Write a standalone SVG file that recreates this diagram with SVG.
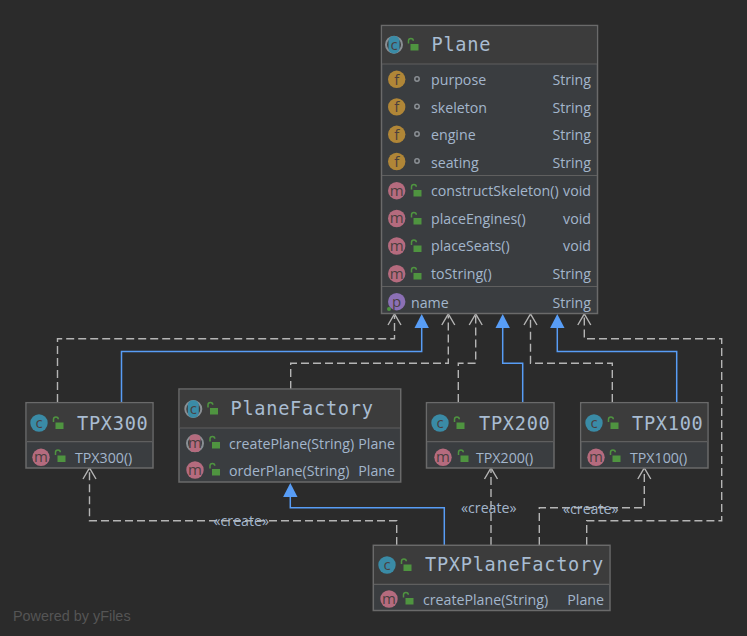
<svg xmlns="http://www.w3.org/2000/svg" xmlns:xlink="http://www.w3.org/1999/xlink" width="747" height="636" viewBox="0 0 747 636">
<style>
.box{fill:#3a3d40;stroke:#6a6a6a;stroke-width:1.5}
.hd{fill:#3c3c3c}
.div{stroke:#5f5f5f;stroke-width:1.2;fill:none}
.t{font-family:"Open Sans","Noto Sans",sans-serif;font-size:14.200px;fill:#a3b6cc}
.r{text-anchor:end}
.title{font-family:"DejaVu Sans Mono",monospace;font-size:18.600px;letter-spacing:0.730px;fill:#a9bcd2}
.ic{font-family:"Open Sans",sans-serif;font-size:15px;text-anchor:middle;fill:#4a3f3f}
.c{fill:#3a8ba6}.f{fill:#b08637}.m{fill:#b56b7e}.p{fill:#8b70b5}
.ring{fill:none;stroke:#8a8f94;stroke-width:2}
.dash{fill:none;stroke:#b5b5b5;stroke-width:1.4;stroke-dasharray:8 4}
.blue{fill:none;stroke:#589df6;stroke-width:1.5}
.open{fill:none;stroke:#b5b5b5;stroke-width:1.4}
.tri{fill:#589df6}
.lbl{font-family:"Open Sans","Noto Sans",sans-serif;font-size:14.200px;fill:#a3b6cc}
</style>
<defs>
<g id="lock"><path d="M-4.500 -1.500V-4.200a2.400 2.400 0 0 1 4.800 0" fill="none" stroke="#4f9440" stroke-width="1.500"/><rect x="-2.500" y="-1" width="8" height="6.500" fill="#4f9440"/></g>
<path id="ah" class="open" d="M-6.500 11L0 0L6.500 11"/>
<path id="tr" class="tri" d="M0 0L7.200 14H-7.200Z"/>
</defs>
<rect width="747" height="636" fill="#2b2b2b"/>

<g id="connectors">
<path class="dash" d="M57.500 402V338.700H394.500V316"/><use xlink:href="#ah" x="394.500" y="314"/>
<path class="blue" d="M121.500 402V351.500H421.700V328"/><use xlink:href="#tr" x="421.700" y="314"/>
<path class="dash" d="M290.700 389V363.300H448.300V316"/><use xlink:href="#ah" x="448.300" y="314"/>
<path class="dash" d="M458.300 402V363.300H475.700V316"/><use xlink:href="#ah" x="475.700" y="314"/>
<path class="blue" d="M522.700 402V363.300H502.700V328"/><use xlink:href="#tr" x="502.700" y="314"/>
<path class="dash" d="M612.300 402V363.300H530.500V316"/><use xlink:href="#ah" x="530.500" y="314"/>
<path class="blue" d="M676.700 402V351.500H557.300V328"/><use xlink:href="#tr" x="557.300" y="314"/>
<path class="dash" d="M586.700 545V520.700H721.700V338.700H584.300V316"/><use xlink:href="#ah" x="584.300" y="314"/>
<path class="dash" d="M396.700 545V520.700H89.500V470"/><use xlink:href="#ah" x="89.500" y="468"/>
<path class="blue" d="M444.300 545V507.700H290.300V497"/><use xlink:href="#tr" x="290.300" y="483"/>
<path class="dash" d="M491 545V470"/><use xlink:href="#ah" x="491" y="468"/>
<path class="dash" d="M539.300 545V507.700H644.300V470"/><use xlink:href="#ah" x="644.300" y="468"/>
<text class="lbl" x="213.500" y="526">«create»</text>
<text class="lbl" x="461" y="513">«create»</text>
<text class="lbl" x="563" y="514">«create»</text>
</g>

<g id="node-plane">
<rect class="box" x="381.500" y="25.500" width="216" height="288"/>
<rect class="hd" x="382.300" y="26.300" width="214.400" height="37.700"/>
<path class="div" d="M382 64H597M382 175.500H597M382 286.500H597"/>
<circle class="ring" cx="394" cy="44.700" r="8"/><rect class="c" x="388.500" y="36" width="11" height="17.500" rx="5"/><text class="ic" x="394" y="50">c</text>
<use xlink:href="#lock" x="413" y="45"/>
<text class="title" x="431.500" y="51">Plane</text>
<circle class="f" cx="396.700" cy="79.300" r="8.700"/><text class="ic" x="396.700" y="84.500">f</text><circle cx="417" cy="79" r="2.200" fill="none" stroke="#8a8f94" stroke-width="1.500"/>
<text class="t" x="431" y="85">purpose</text><text class="t r" x="591" y="85">String</text>
<circle class="f" cx="396.700" cy="106.900" r="8.700"/><text class="ic" x="396.700" y="112.100">f</text><circle cx="417" cy="106.500" r="2.200" fill="none" stroke="#8a8f94" stroke-width="1.500"/>
<text class="t" x="431" y="113">skeleton</text><text class="t r" x="591" y="113">String</text>
<circle class="f" cx="396.700" cy="134.300" r="8.700"/><text class="ic" x="396.700" y="139.500">f</text><circle cx="417" cy="134" r="2.200" fill="none" stroke="#8a8f94" stroke-width="1.500"/>
<text class="t" x="431" y="140">engine</text><text class="t r" x="591" y="140">String</text>
<circle class="f" cx="396.700" cy="161.500" r="8.700"/><text class="ic" x="396.700" y="166.700">f</text><circle cx="417" cy="161" r="2.200" fill="none" stroke="#8a8f94" stroke-width="1.500"/>
<text class="t" x="431" y="168">seating</text><text class="t r" x="591" y="168">String</text>
<circle class="m" cx="396.700" cy="190.700" r="8.700"/><text class="ic" x="396.700" y="195.500">m</text><use xlink:href="#lock" x="416" y="191"/>
<text class="t" x="431" y="196">constructSkeleton()</text><text class="t r" x="591" y="196">void</text>
<circle class="m" cx="396.700" cy="218.500" r="8.700"/><text class="ic" x="396.700" y="223.300">m</text><use xlink:href="#lock" x="416" y="219"/>
<text class="t" x="431" y="224">placeEngines()</text><text class="t r" x="591" y="224">void</text>
<circle class="m" cx="396.700" cy="246" r="8.700"/><text class="ic" x="396.700" y="250.800">m</text><use xlink:href="#lock" x="416" y="246.500"/>
<text class="t" x="431" y="251">placeSeats()</text><text class="t r" x="591" y="251">void</text>
<circle class="m" cx="396.700" cy="273.700" r="8.700"/><text class="ic" x="396.700" y="278.500">m</text><use xlink:href="#lock" x="416" y="274"/>
<text class="t" x="431" y="279">toString()</text><text class="t r" x="591" y="279">String</text>
<circle class="p" cx="396.700" cy="301.700" r="8.700"/><text class="ic" x="396.700" y="306.500">p</text><circle cx="389" cy="309" r="2" fill="#4f9440"/>
<text class="t" x="411" y="308">name</text><text class="t r" x="591" y="308">String</text>
</g>

<g id="node-tpx300">
<rect class="box" x="26" y="402.700" width="127" height="65.300"/>
<rect class="hd" x="26.800" y="403.500" width="125.400" height="38"/>
<path class="div" d="M27 441.700H152"/>
<circle class="c" cx="39" cy="423" r="8.700"/><text class="ic" x="39" y="428">c</text><use xlink:href="#lock" x="58" y="423.500"/>
<text class="title" x="77" y="429.500">TPX300</text>
<circle class="m" cx="41" cy="457.300" r="8.700"/><text class="ic" x="41" y="462.100">m</text><use xlink:href="#lock" x="60" y="456.500"/>
<text class="t" x="75" y="463">TPX300()</text>
</g>

<g id="node-planefactory">
<rect class="box" x="179" y="389" width="221.700" height="93"/>
<rect class="hd" x="179.800" y="389.800" width="220.100" height="38.200"/>
<path class="div" d="M180 428H400"/>
<circle class="ring" cx="193.300" cy="409" r="8"/><rect class="c" x="187.800" y="400.300" width="11" height="17.500" rx="5"/><text class="ic" x="193.300" y="414">c</text><use xlink:href="#lock" x="212.500" y="409"/>
<text class="title" x="230.500" y="415">PlaneFactory</text>
<circle class="ring" cx="195" cy="443.300" r="8"/><rect class="m" x="189.500" y="434.600" width="11" height="17.500" rx="4"/><text class="ic" x="195" y="448.100">m</text><use xlink:href="#lock" x="214.500" y="443"/>
<text class="t" x="229" y="449">createPlane(String)</text><text class="t r" x="395" y="449">Plane</text>
<circle class="m" cx="195" cy="470" r="8.700"/><text class="ic" x="195" y="474.800">m</text><use xlink:href="#lock" x="214.500" y="470"/>
<text class="t" x="229" y="476">orderPlane(String)</text><text class="t r" x="395" y="476">Plane</text>
</g>

<g id="node-tpx200">
<rect class="box" x="426.500" y="402.700" width="127.500" height="65.300"/>
<rect class="hd" x="427.300" y="403.500" width="125.900" height="38"/>
<path class="div" d="M427 441.700H553"/>
<circle class="c" cx="440" cy="423" r="8.700"/><text class="ic" x="440" y="428">c</text><use xlink:href="#lock" x="459" y="423.500"/>
<text class="title" x="479" y="429.500">TPX200</text>
<circle class="m" cx="443" cy="457.300" r="8.700"/><text class="ic" x="443" y="462.100">m</text><use xlink:href="#lock" x="463" y="456.500"/>
<text class="t" x="476" y="463">TPX200()</text>
</g>

<g id="node-tpx100">
<rect class="box" x="580.700" y="402.700" width="127.300" height="65.300"/>
<rect class="hd" x="581.500" y="403.500" width="125.700" height="38"/>
<path class="div" d="M581 441.700H707"/>
<circle class="c" cx="594" cy="423" r="8.700"/><text class="ic" x="594" y="428">c</text><use xlink:href="#lock" x="613" y="423.500"/>
<text class="title" x="632" y="429.500">TPX100</text>
<circle class="m" cx="596" cy="457.300" r="8.700"/><text class="ic" x="596" y="462.100">m</text><use xlink:href="#lock" x="615" y="456.500"/>
<text class="t" x="630" y="463">TPX100()</text>
</g>

<g id="node-tpxplanefactory">
<rect class="box" x="373.300" y="545.300" width="236.700" height="65.200"/>
<rect class="hd" x="374.100" y="546.100" width="235.100" height="38"/>
<path class="div" d="M374 584.300H609"/>
<circle class="c" cx="387" cy="565" r="8.700"/><text class="ic" x="387" y="570">c</text><use xlink:href="#lock" x="406" y="565.500"/>
<text class="title" x="425" y="571">TPXPlaneFactory</text>
<circle class="m" cx="389" cy="599" r="8.700"/><text class="ic" x="389" y="603.800">m</text><use xlink:href="#lock" x="408" y="599"/>
<text class="t" x="423" y="605">createPlane(String)</text><text class="t r" x="604" y="605">Plane</text>
</g>

<text x="13" y="621" font-family="Liberation Sans, sans-serif" font-size="14.400px" fill="#555555">Powered by yFiles</text>
</svg>
